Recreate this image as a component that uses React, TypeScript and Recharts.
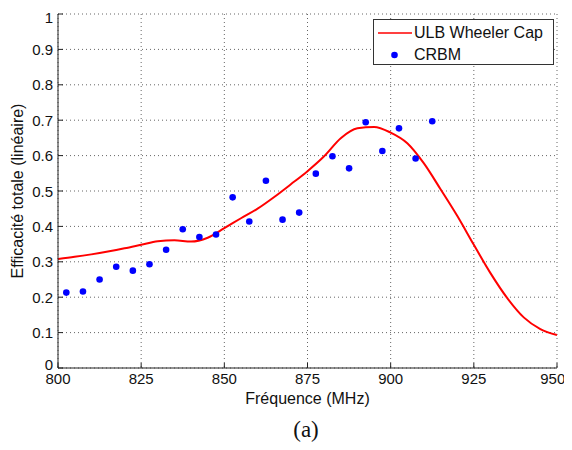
import { ComposedChart, Line, Scatter, XAxis, YAxis, CartesianGrid, Legend, Label } from 'recharts';

// ULB Wheeler Cap (simulated curve)
const curveFreq = [800, 805, 810, 815, 820, 825, 830, 835, 840, 845, 850, 855, 860, 865, 870, 875, 880, 885, 890, 895, 900, 905, 910, 915, 920, 925, 930, 935, 940, 945, 950];
const curveEff = [0.308, 0.314, 0.321, 0.329, 0.338, 0.348, 0.358, 0.361, 0.357, 0.368, 0.395, 0.423, 0.45, 0.483, 0.519, 0.556, 0.598, 0.649, 0.677, 0.681, 0.665, 0.635, 0.578, 0.505, 0.43, 0.348, 0.268, 0.198, 0.143, 0.11, 0.093];

// CRBM measurements
const measFreq = [802.5, 807.5, 812.5, 817.5, 822.5, 827.5, 832.5, 837.5, 842.5, 847.5, 852.5, 857.5, 862.5, 867.5, 872.5, 877.5, 882.5, 887.5, 892.5, 897.5, 902.5, 907.5, 912.5];
const measEff = [0.213, 0.216, 0.25, 0.286, 0.275, 0.293, 0.334, 0.392, 0.37, 0.377, 0.482, 0.414, 0.529, 0.419, 0.439, 0.549, 0.598, 0.564, 0.694, 0.613, 0.677, 0.592, 0.697];

const xTicks = [800, 825, 850, 875, 900, 925, 950];
const yTicks = [0, 0.1, 0.2, 0.3, 0.4, 0.5, 0.6, 0.7, 0.8, 0.9, 1];

const curveData = curveFreq.map((f, i) => ({ f, v: curveEff[i] }));
const measData = measFreq.map((f, i) => ({ f, v: measEff[i] }));

const font = '"Liberation Sans", Arial, sans-serif';
const axisColor = '#222';
const tickStyle = { fontSize: 15, fill: '#111', fontFamily: font };

// y tick labels; the "0" sits a bit higher so it clears "800"
const YTick = ({ x, y, payload }: any) => (
  <text x={x} y={payload.value === 0 ? y - 4 : y} textAnchor="end" dominantBaseline="central" {...tickStyle}>
    {payload.value}
  </text>
);

const YTitle = ({ viewBox }: any) => {
  const cx = 9;
  const cy = viewBox.y + viewBox.height / 2;
  return (
    <text x={cx} y={cy} transform={`rotate(-90, ${cx}, ${cy})`} textAnchor="middle" dominantBaseline="central"
      fontSize={16} fontFamily={font} fill="#111">
      Efficacité totale (linéaire)
    </text>
  );
};

// line entry first, like the original matlab legend
const LegendBox = ({ payload }: any) => {
  const items = [...(payload || [])].sort((a: any, b: any) => (a.type === 'line' ? -1 : 0) - (b.type === 'line' ? -1 : 0));
  return (
    <div style={{ position: 'relative', boxSizing: 'border-box', width: 181, height: 46, border: '1px solid #333', background: '#fff', fontFamily: font, fontSize: 16, color: '#111' }}>
      {items.map((e: any, i: number) => {
        const cy = i === 0 ? 13 : 34.5;
        return (
          <div key={e.value} style={{ position: 'absolute', left: 0, top: cy - 10, height: 20, width: 179 }}>
            <svg width={40} height={20} style={{ position: 'absolute', left: 0, top: 0 }}>
              {e.type === 'line'
                ? <line x1={4} x2={38} y1={10} y2={10} stroke={e.color} strokeWidth={1.5} />
                : <circle cx={20.5} cy={10} r={3.3} fill={e.color} />}
            </svg>
            <span style={{ position: 'absolute', left: 40, top: 0, lineHeight: '20px', whiteSpace: 'nowrap' }}>{e.value}</span>
          </div>
        );
      })}
    </div>
  );
};

export default function App() {
  return (
    <div style={{ position: 'relative', width: 556, height: 434 }}>
      <ComposedChart width={556} height={434} margin={{ top: 6, right: 7, bottom: 24, left: 0 }}>
        <CartesianGrid stroke="#666" strokeDasharray="1 3" />
        <XAxis dataKey="f" type="number" domain={[800, 950]} ticks={xTicks} height={50}
          tick={tickStyle} tickSize={-5} tickMargin={10} axisLine={{ stroke: axisColor }} tickLine={{ stroke: axisColor }}>
          <Label value="Fréquence (MHz)" position="insideTop" offset={25} fontSize={16} fontFamily={font} fill="#111" />
        </XAxis>
        <XAxis xAxisId="top" orientation="top" type="number" domain={[800, 950]} ticks={xTicks} height={0}
          tick={false} tickSize={-5} axisLine={{ stroke: axisColor }} tickLine={{ stroke: axisColor }} />
        <YAxis dataKey="v" type="number" domain={[0, 1]} ticks={yTicks} width={50}
          tick={<YTick />} tickSize={-5} tickMargin={10} axisLine={{ stroke: axisColor }} tickLine={{ stroke: axisColor }}>
          <Label content={YTitle} />
        </YAxis>
        <YAxis yAxisId="right" orientation="right" type="number" domain={[0, 1]} ticks={yTicks} width={0}
          tick={false} tickSize={-5} axisLine={{ stroke: axisColor }} tickLine={{ stroke: axisColor }} />
        <Legend layout="horizontal" verticalAlign="middle" align="center" content={<LegendBox />}
          wrapperStyle={{ position: 'absolute', left: 365, top: 11, width: 181, height: 46 }} />
        <Line data={curveData} dataKey="v" name="ULB Wheeler Cap" type="monotone" stroke="#f00" strokeWidth={2}
          dot={false} legendType="line" isAnimationActive={false} />
        <Scatter data={measData} dataKey="v" name="CRBM" fill="#00f" legendType="circle" isAnimationActive={false}
          shape={(p: any) => <circle cx={p.cx} cy={p.cy} r={3.3} fill="#00f" />} />
      </ComposedChart>
      <div style={{ position: 'absolute', left: 268, top: 410, width: 60, textAlign: 'center', fontFamily: '"Liberation Serif", serif', fontSize: 23, lineHeight: '24px', color: '#111' }}>
        (a)
      </div>
    </div>
  );
}
